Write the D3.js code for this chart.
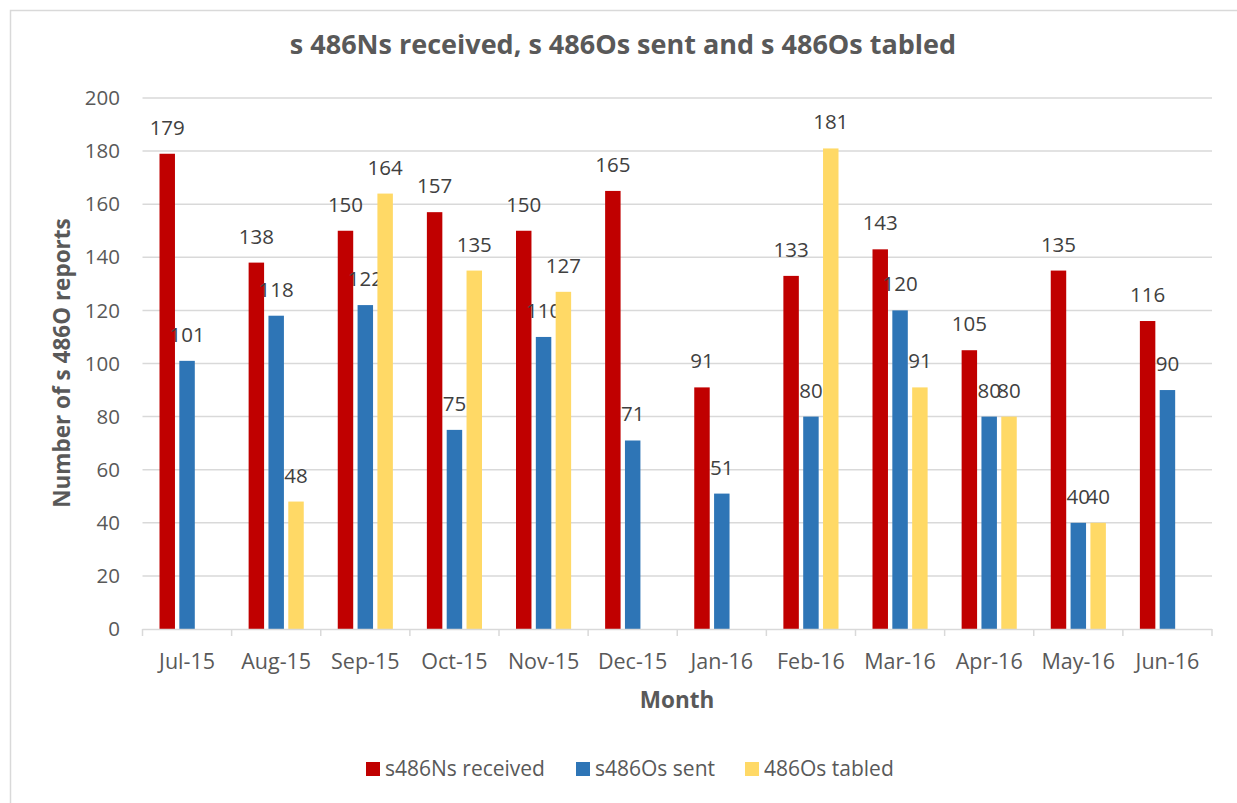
<!DOCTYPE html>
<html><head><meta charset="utf-8">
<script src="https://cdn.jsdelivr.net/npm/d3@7"></script>
<style>body{margin:0;background:#fff;font-family:"Open Sans",sans-serif;}</style>
</head><body><svg id="c" width="1237" height="803"></svg>
<script>
const months = ["Jul-15","Aug-15","Sep-15","Oct-15","Nov-15","Dec-15","Jan-16","Feb-16","Mar-16","Apr-16","May-16","Jun-16"];
const received = [179,138,150,157,150,165,91,133,143,105,135,116];
const sent = [101,118,122,75,110,71,51,80,120,80,40,90];
const tabled = [null,48,164,135,127,null,null,181,91,80,40,null];
const seriesNames = ["s486Ns received","s486Os sent","486Os tabled"];
const colors = ["#c00000","#2e75b6","#ffd966"];
const yTicks = [0,20,40,60,80,100,120,140,160,180,200];

const svg = d3.select("#c");
svg.append("rect").attr("x",10.5).attr("y",10.5).attr("width",1240).attr("height",800)
  .attr("fill","#fff").attr("stroke","#d9d9d9").attr("stroke-width",1.5);

const L=142.5, R=1212, T=98, B=629;
const x = d3.scaleBand().domain(months).range([L,R]).paddingInner(0).paddingOuter(0);
const y = d3.scaleLinear().domain([0,200]).range([B,T]);

// gridlines
svg.append("g").selectAll("line").data(yTicks.filter(d=>d>0)).join("line")
  .attr("x1",L).attr("x2",R).attr("y1",d=>y(d)).attr("y2",d=>y(d))
  .attr("stroke","#d9d9d9").attr("stroke-width",1.5);

// y tick labels
svg.append("g").selectAll("text").data(yTicks).join("text")
  .attr("x",120).attr("y",d=>y(d)).attr("dy","0.35em").attr("text-anchor","end")
  .attr("font-size",20.5).attr("fill","#595959").text(d=>d);

const series = [received,sent,tabled];
const inner = d3.scaleBand().domain([0,1,2]).range([17,x.bandwidth()-17]).paddingInner(0.22);

series.forEach((vals,si)=>{
  const data = months.map((m,i)=>({m,v:vals[i]})).filter(d=>d.v!==null);
  svg.append("g").selectAll("rect").data(data).join("rect")
    .attr("x",d=>x(d.m)+inner(si)).attr("width",inner.bandwidth())
    .attr("y",d=>y(d.v)).attr("height",d=>B-y(d.v))
    .attr("fill",colors[si]);
  svg.append("g").selectAll("text").data(data).join("text")
    .attr("x",d=>x(d.m)+inner(si)+inner.bandwidth()/2).attr("y",d=>y(d.v)-19)
    .attr("text-anchor","middle").attr("font-size",20.5).attr("fill","#404040")
    .text(d=>d.v);
});

// x axis
svg.append("line").attr("x1",L).attr("x2",R).attr("y1",B+0.5).attr("y2",B+0.5)
  .attr("stroke","#d9d9d9").attr("stroke-width",1.5);
const tickPos = months.map(m=>x(m)).concat([R]);
svg.append("g").selectAll("line").data(tickPos).join("line")
  .attr("x1",d=>d).attr("x2",d=>d).attr("y1",B).attr("y2",B+7)
  .attr("stroke","#d9d9d9").attr("stroke-width",1.5);
svg.append("g").selectAll("text").data(months).join("text")
  .attr("x",d=>x(d)+x.bandwidth()/2).attr("y",661).attr("dy","0.35em").attr("text-anchor","middle")
  .attr("font-size",21.5).attr("fill","#595959").text(d=>d);

// titles
svg.append("text").attr("x",623).attr("y",45).attr("dy","0.35em").attr("text-anchor","middle")
  .attr("font-size",27).attr("font-weight","bold").attr("fill","#595959")
  .text("s 486Ns received, s 486Os sent and s 486Os tabled");
svg.append("text").attr("x",677).attr("y",700).attr("dy","0.35em").attr("text-anchor","middle")
  .attr("font-size",22.5).attr("font-weight","bold").attr("fill","#595959").text("Month");
svg.append("text").attr("transform","translate(62,363) rotate(-90)").attr("dy","0.35em").attr("text-anchor","middle")
  .attr("font-size",22.5).attr("font-weight","bold").attr("fill","#595959").text("Number of s 486O reports");

// legend
const legX = [366,576,745];
const lg = svg.append("g").selectAll("g").data(seriesNames).join("g")
  .attr("transform",(d,i)=>`translate(${legX[i]},769)`);
lg.append("rect").attr("x",0).attr("y",-7).attr("width",14).attr("height",14).attr("fill",(d,i)=>colors[i]);
lg.append("text").attr("x",19).attr("y",0).attr("dy","0.35em").attr("font-size",21).attr("fill","#595959").text(d=>d);
</script></body></html>
